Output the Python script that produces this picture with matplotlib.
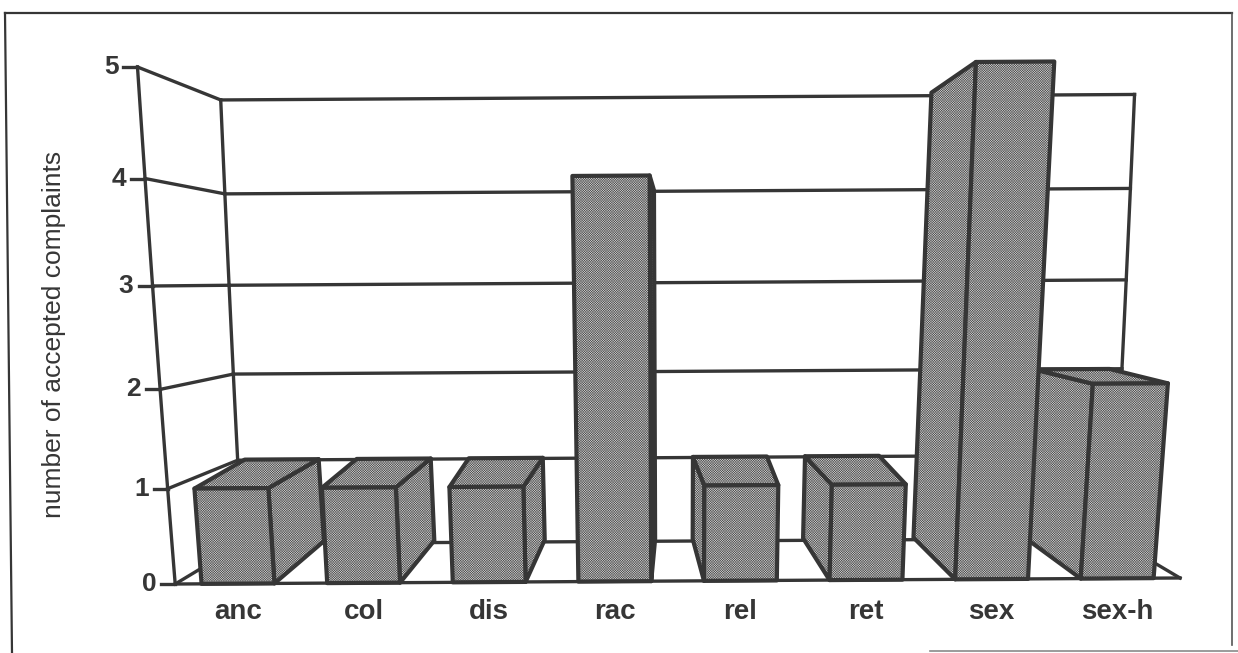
import numpy as np
import matplotlib
matplotlib.use('Agg')
import matplotlib.pyplot as plt
from matplotlib.patches import Polygon

# ── Data ───────────────────────────────────────────────────────────────────
CATEGORIES = ["anc", "col", "dis", "rac", "rel", "ret", "sex", "sex-h"]
COMPLAINTS = [1, 1, 1, 4, 1, 1, 5, 2]
Y_TICKS    = [0, 1, 2, 3, 4, 5]
Y_LABEL    = "number of accepted complaints"

# ── Style ──────────────────────────────────────────────────────────────────
LINE    = "#363636"
FILL    = "#d4d4d4"
HATCH_C = "#505050"
HATCH   = "x" * 14
LW_GRID = 2.4
LW_BAR  = 3.0
plt.rcParams['hatch.linewidth'] = 0.35

# ── Perspective setup (canvas pixels) ──────────────────────────────────────
VPX, VPY = 678, 281          # vanishing point of the walls
X0, STEP = 238, 125.6        # front centre of first category, spacing
Y0, A, B = 581, 93.3, 2.03   # front height scale (slightly non-linear)
K        = 0.015             # vertical convergence
F0, F1   = 0.133, 0.0042     # wall depth factor
BVX, BFX, BFY = 647, 0.121, 0.14   # bar depth offset
ROLL     = 0.006
BAR_W    = 0.58


def front(u, v):
    y = Y0 - A * v - B * v * v
    x = VPX + (X0 + STEP * u - VPX) * (1 + K * v)
    return x, y


def rolled(x, y):
    return x, y - ROLL * (x - VPX)


def wall_pt(u, v, z):
    x, y = front(u, v)
    s = z * (F0 + F1 * v)
    return rolled(x + (VPX - x) * s, y + (VPY - y) * s)


def bar_pt(u, uc, v, z):
    x, y = front(u, v)
    xc, _ = front(uc, v)
    return rolled(x + z * BFX * (BVX - xc), y + z * BFY * (VPY - y))


fig = plt.figure(figsize=(12.38, 6.53), dpi=100)
ax = fig.add_axes([0, 0, 1, 1])
ax.set_xlim(0, 1238)
ax.set_ylim(653, 0)
ax.axis('off')


def wall_line(a, b, n=24):
    t = np.linspace(0, 1, n)
    pts = [wall_pt(*(a[k] + (b[k] - a[k]) * s for k in range(3))) for s in t]
    xs, ys = zip(*pts)
    ax.plot(xs, ys, color=LINE, lw=LW_GRID, solid_capstyle='projecting', zorder=1)


U_MIN, U_MAX = -0.5, len(CATEGORIES) - 0.5
V_TOP = max(Y_TICKS)

# ── Walls and floor ────────────────────────────────────────────────────────
for v in Y_TICKS:
    wall_line((U_MIN, v, 0), (U_MIN, v, 1))          # side wall grid
    wall_line((U_MIN, v, 1), (U_MAX, v, 1))          # back wall grid
wall_line((U_MIN, 0, 0), (U_MIN, V_TOP, 0))
wall_line((U_MIN, 0, 1), (U_MIN, V_TOP, 1))
wall_line((U_MAX, 0, 1), (U_MAX, V_TOP, 1))
wall_line((U_MIN, 0, 0), (U_MAX, 0, 0))              # floor front
wall_line((U_MAX, 0, 0), (U_MAX, 0, 1))              # floor right

# ticks + labels
for v in Y_TICKS:
    x, y = wall_pt(U_MIN, v, 0)
    ax.plot([x - 14, x], [y, y], color=LINE, lw=LW_GRID, zorder=1)
    ax.text(x - 19, y, str(v), ha='right', va='center', fontsize=19,
            fontweight='bold', color=LINE, family=['Liberation Sans', 'DejaVu Sans'])

ax.text(54, 334, Y_LABEL, rotation=90, ha='center', va='center', fontsize=19,
        color=LINE, family=['Liberation Sans', 'DejaVu Sans'])

# ── Bars ───────────────────────────────────────────────────────────────────
def face(pts, z):
    ax.add_patch(Polygon(pts, closed=True, facecolor=FILL, edgecolor=HATCH_C,
                         lw=0, hatch=HATCH, zorder=z))
    ax.add_patch(Polygon(pts, closed=True, fill=False, edgecolor=LINE,
                         lw=LW_BAR, joinstyle='round', zorder=z + 0.1))


order = sorted(range(len(CATEGORIES)), key=lambda i: -abs(front(i, 0)[0] - BVX))
for k, i in enumerate(order):
    h = COMPLAINTS[i]
    uL, uR = i - BAR_W / 2, i + BAR_W / 2
    z = 3 + k
    P = lambda u, v, d: bar_pt(u, i, v, d)
    # side face toward the centre
    us = uR if front(i, 0)[0] < BVX else uL
    face([P(us, 0, 0), P(us, h, 0), P(us, h, 1), P(us, 0, 1)], z)
    # top face when below eye level
    if P(i, h, 1)[1] < P(i, h, 0)[1]:
        face([P(uL, h, 0), P(uR, h, 0), P(uR, h, 1), P(uL, h, 1)], z + 0.2)
    face([P(uL, 0, 0), P(uR, 0, 0), P(uR, h, 0), P(uL, h, 0)], z + 0.4)

for i, name in enumerate(CATEGORIES):
    x, y = front(i, 0)
    ax.text(x, y + 31, name, ha='center', va='center', fontsize=20,
            fontweight='bold', fontstretch='condensed', color=LINE,
            family=['Liberation Sans Narrow', 'Liberation Sans', 'DejaVu Sans'])

# ── Frame ──────────────────────────────────────────────────────────────────
ax.plot([5, 12], [13, 653], color=LINE, lw=1.6, zorder=0)
ax.plot([5, 1232], [13, 13], color=LINE, lw=1.6, zorder=0)
ax.plot([1232, 1232], [13, 645], color="#555555", lw=1.2, zorder=0)
ax.plot([930, 1238], [651, 651], color="#8a8a8a", lw=1.2, zorder=0)

fig.savefig("out.png", dpi=100)
plt.close()
